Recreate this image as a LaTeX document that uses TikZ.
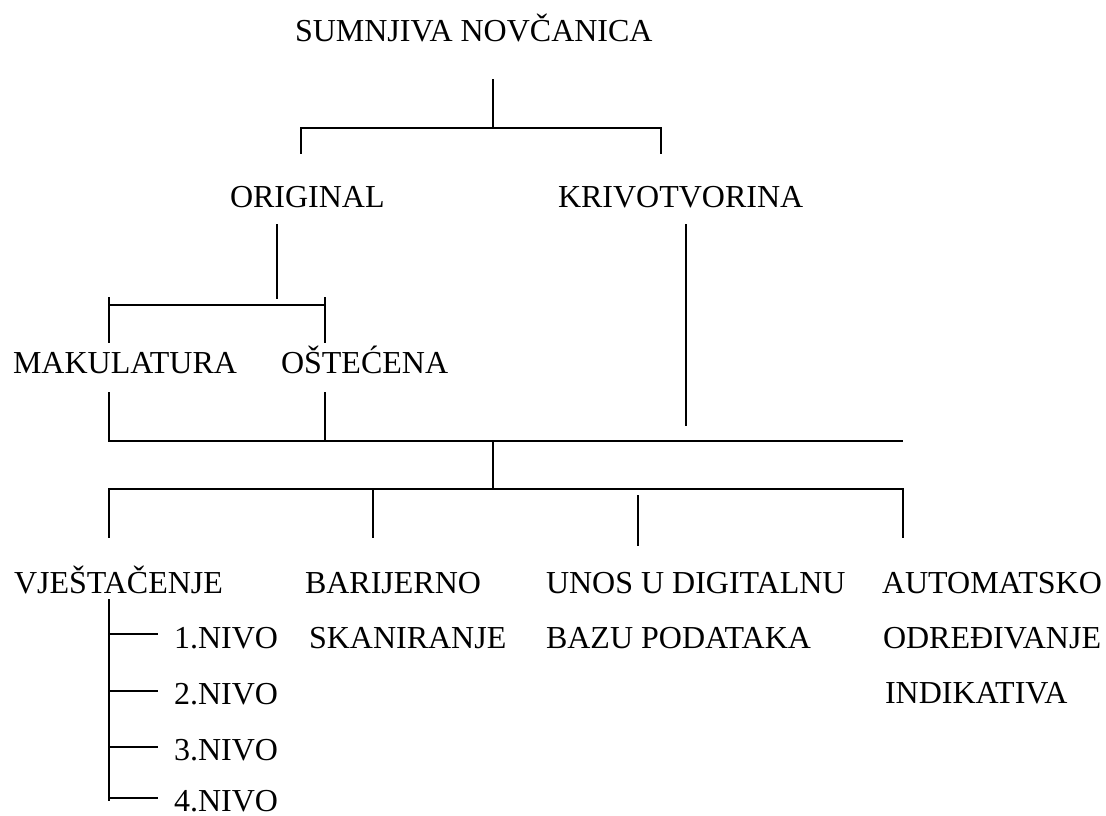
\documentclass[tikz,border=0pt]{standalone}
\usepackage{fontspec}
\setmainfont{Liberation Serif}
\begin{document}
\begin{tikzpicture}[x=1pt,y=-1pt,
  lbl/.style={anchor=base west,inner sep=0pt,outer sep=0pt,font=\fontsize{32}{38}\selectfont},
  conn/.style={line width=1.5pt,line cap=rect},
  hconn/.style={line width=2pt}]
\useasboundingbox[fill=white] (0,0) rectangle (1106,816);
% texts
\node[lbl] (sumnjiva) at (295,42) {SUMNJIVA NOVČANICA};
\node[lbl] (original) at (230,207) {ORIGINAL};
\node[lbl] (krivo) at (558,207) {KRIVOTVORINA};
\node[lbl] (makul) at (13,373) {MAKULATURA};
\node[lbl] (ostec) at (281,373) {OŠTEĆENA};
\node[lbl] (vjest) at (14,593) {VJEŠTAČENJE};
\node[lbl] (barij) at (305,593) {BARIJERNO};
\node[lbl] (skan) at (309,648) {SKANIRANJE};
\node[lbl] (unos) at (546,593) {UNOS U DIGITALNU};
\node[lbl] (bazu) at (546,648) {BAZU PODATAKA};
\node[lbl] (auto) at (882,593) {AUTOMATSKO};
\node[lbl] (odred) at (883,648) {ODREĐIVANJE};
\node[lbl] (indik) at (885,703) {INDIKATIVA};
\node[lbl] (n1) at (174,648) {1.NIVO};
\node[lbl] (n2) at (174,704) {2.NIVO};
\node[lbl] (n3) at (174,760) {3.NIVO};
\node[lbl] (n4) at (174,811) {4.NIVO};
% coordinates
\coordinate (a0) at (493,80);
\coordinate (a1) at (493,128);
\coordinate (a2) at (301,128);
\coordinate (a3) at (661,128);
\coordinate (a4) at (301,153);
\coordinate (a5) at (661,153);
\coordinate (b0) at (277,225);
\coordinate (b1) at (277,298);
\coordinate (b2) at (109,305);
\coordinate (b3) at (325,305);
\coordinate (b4) at (109,298);
\coordinate (b5) at (109,342);
\coordinate (b6) at (325,298);
\coordinate (b7) at (325,342);
\coordinate (c0) at (109,393);
\coordinate (c1) at (109,441);
\coordinate (c2) at (325,393);
\coordinate (c3) at (325,441);
\coordinate (k0) at (686,225);
\coordinate (k1) at (686,425);
\coordinate (c4) at (903,441);
\coordinate (d0) at (493,441);
\coordinate (d1) at (493,489);
\coordinate (e0) at (109,489);
\coordinate (e1) at (903,489);
\coordinate (e2) at (109,537);
\coordinate (e3) at (373,489);
\coordinate (e4) at (373,537);
\coordinate (e5) at (638,496);
\coordinate (e6) at (638,545);
\coordinate (e7) at (903,537);
\coordinate (v0) at (109,600);
\coordinate (v1) at (109,800);
\coordinate (t1) at (109,634);
\coordinate (t2) at (109,691);
\coordinate (t3) at (109,747);
\coordinate (t4) at (109,798);
\coordinate (u1) at (157,634);
\coordinate (u2) at (157,691);
\coordinate (u3) at (157,747);
\coordinate (u4) at (157,798);
% connectors
\draw[conn] (a0) -- (a1);
\draw[hconn] (a2) -- (a3);
\draw[conn] (a2) -- (a4);
\draw[conn] (a3) -- (a5);
\draw[conn] (b0) -- (b1);
\draw[hconn] (b2) -- (b3);
\draw[conn] (b4) -- (b5);
\draw[conn] (b6) -- (b7);
\draw[conn] (c0) -- (c1);
\draw[conn] (c2) -- (c3);
\draw[conn] (k0) -- (k1);
\draw[hconn] (c1) -- (c4);
\draw[conn] (d0) -- (d1);
\draw[hconn] (e0) -- (e1);
\draw[conn] (e0) -- (e2);
\draw[conn] (e3) -- (e4);
\draw[conn] (e5) -- (e6);
\draw[conn] (e1) -- (e7);
\draw[conn] (v0) -- (v1);
\draw[conn] (t1) -- (u1);
\draw[conn] (t2) -- (u2);
\draw[conn] (t3) -- (u3);
\draw[conn] (t4) -- (u4);
\end{tikzpicture}
\end{document}
